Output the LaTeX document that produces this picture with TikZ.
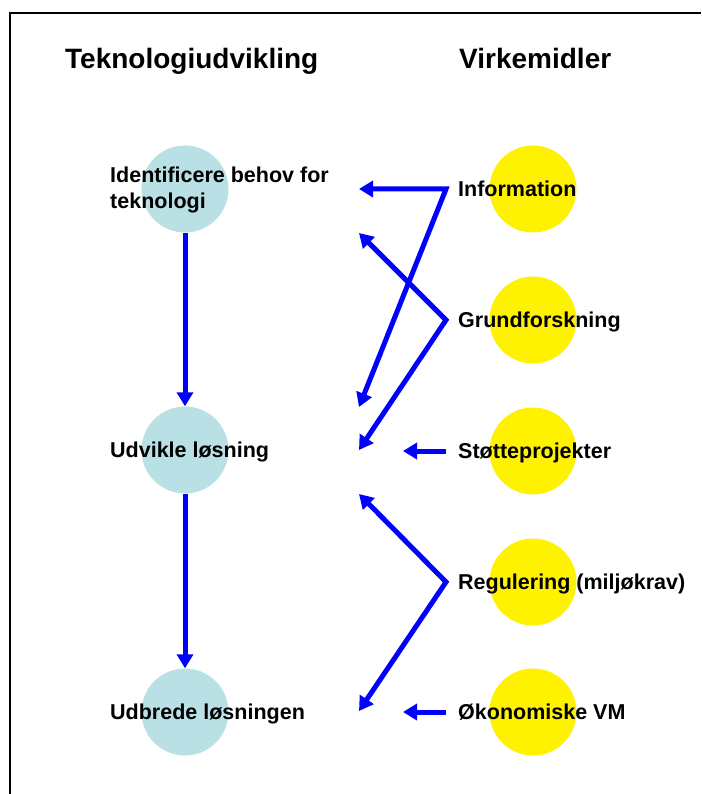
\documentclass[tikz,border=0pt]{standalone}
\usepackage{fontspec}
\setmainfont{Liberation Sans}
\usetikzlibrary{arrows.meta}
\definecolor{techcyan}{RGB}{185,224,228}
\definecolor{flowblue}{RGB}{0,0,255}

\begin{document}
\begin{tikzpicture}[
    x=1pt, y=-1pt,
    every node/.style = {inner sep=0pt, align=left},
    head/.style = {font=\fontsize{28}{32}\selectfont\bfseries, anchor=base west},
    lbl/.style = {font=\fontsize{21.5}{25}\selectfont\bfseries, anchor=west,
      text height=15.5pt, text depth=0pt},
    tech/.style = {circle, fill=techcyan, minimum size=87pt},
    means/.style = {circle, fill=yellow, minimum size=87pt},
    flow/.style = {draw=flowblue, line width=5pt, line join=miter,
      >={Triangle[length=14pt,width=16pt]}, ->}
  ]
    \useasboundingbox (0,0) rectangle (701,794);
    \draw[line width=2pt] (10,794) |- (701,13);

    % column headings
    \node[head] (hdtech) at (65,69) {Teknologiudvikling};
    \node[head] (hdmeans) at (459,69) {Virkemidler};

    % circles
    \node[tech] (c1) at (185,189) {};
    \node[tech] (c2) at (185,450) {};
    \node[tech] (c3) at (185,712) {};
    \node[means] (m1) at (533,189) {};
    \node[means] (m2) at (533,320) {};
    \node[means] (m3) at (533,451) {};
    \node[means] (m4) at (533,582) {};
    \node[means] (m5) at (533,712) {};

    % labels
    \node[font=\fontsize{21.5}{25}\selectfont\bfseries, anchor=base west]
      (ident) at (110,208) {Identificere behov for\\teknologi};
    \node[lbl] (udvikle) at (110,450) {Udvikle løsning};
    \node[lbl] (udbrede) at (110,712) {Udbrede løsningen};
    \node[lbl] (info) at (458,189) {Information};
    \node[lbl] (grund) at (458,320) {Grundforskning};
    \node[lbl] (stotte) at (458,451) {Støtteprojekter};
    \node[lbl] (regul) at (458,582) {Regulering (miljøkrav)};
    \node[lbl] (okon) at (458,712) {Økonomiske VM};

    % free arrow ends
    \coordinate (a1) at (359,189);
    \coordinate (a2) at (359,407);
    \coordinate (a3) at (359,233);
    \coordinate (a4) at (359,450);
    \coordinate (a5) at (359,494);
    \coordinate (a6) at (359,711);
    \coordinate (a7) at (403,451);
    \coordinate (a8) at (403,712);

    % arrows
    \draw[flow] (c1) -- (c2);
    \draw[flow] (c2) -- (c3);
    \draw[flow, <->] (a1) -- ([xshift=-12pt]info.west) -- (a2);
    \draw[flow, <->] (a3) -- ([xshift=-12pt]grund.west) -- (a4);
    \draw[flow] ([xshift=-12pt]stotte.west) -- (a7);
    \draw[flow, <->] (a5) -- ([xshift=-12pt]regul.west) -- (a6);
    \draw[flow] ([xshift=-12pt]okon.west) -- (a8);
  \end{tikzpicture}
\end{document}
